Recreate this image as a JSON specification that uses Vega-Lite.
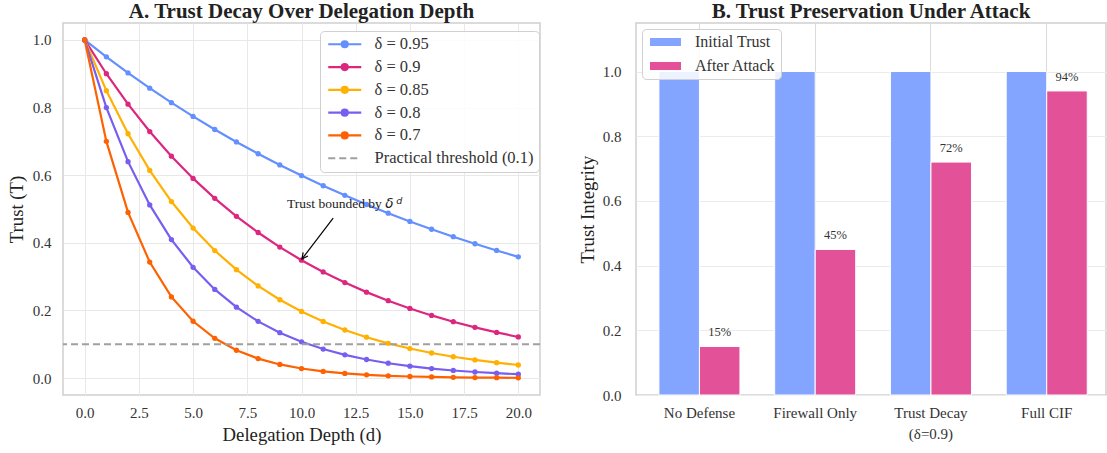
{
  "$schema": "https://vega.github.io/schema/vega-lite/v6.json",
  "padding": {"left": 6, "top": 0, "right": 0, "bottom": 0},
  "background": "white",
  "config": {
    "font": "Liberation Serif",
    "view": {"stroke": "#cfcfcf", "strokeWidth": 1.5},
    "style": {"guide-label": {"font": "Liberation Serif"}, "guide-title": {"font": "Liberation Serif"}, "group-title": {"font": "Liberation Serif"}},
    "axis": {"labelFont": "Liberation Serif", "titleFont": "Liberation Serif", "labelFontSize": 15, "titleFontSize": 18.7, "labelColor": "#333333", "titleColor": "#222222", "titleFontWeight": "normal", "ticks": false, "domain": false, "gridColor": "#e8e8e8", "gridWidth": 1},
    "legend": {"labelFont": "Liberation Serif", "labelFontSize": 16, "labelColor": "#333333"},
    "title": {"font": "Liberation Serif", "fontSize": 21, "fontWeight": "bold", "color": "#222222", "offset": 1},
    "concat": {"spacing": 35}
  },
  "resolve": {"scale": {"color": "independent"}, "legend": {"color": "independent"}},
  "hconcat": [
    {
      "width": 477, "height": 372,
      "title": "A. Trust Decay Over Delegation Depth",
      "data": {"values": [
        {"d":0,"s":"δ = 0.95","t":1},{"d":1,"s":"δ = 0.95","t":0.95},{"d":2,"s":"δ = 0.95","t":0.9025},{"d":3,"s":"δ = 0.95","t":0.857375},{"d":4,"s":"δ = 0.95","t":0.814506},{"d":5,"s":"δ = 0.95","t":0.773781},{"d":6,"s":"δ = 0.95","t":0.735092},{"d":7,"s":"δ = 0.95","t":0.698337},{"d":8,"s":"δ = 0.95","t":0.66342},{"d":9,"s":"δ = 0.95","t":0.630249},{"d":10,"s":"δ = 0.95","t":0.598737},{"d":11,"s":"δ = 0.95","t":0.5688},{"d":12,"s":"δ = 0.95","t":0.54036},{"d":13,"s":"δ = 0.95","t":0.513342},{"d":14,"s":"δ = 0.95","t":0.487675},{"d":15,"s":"δ = 0.95","t":0.463291},{"d":16,"s":"δ = 0.95","t":0.440127},{"d":17,"s":"δ = 0.95","t":0.41812},{"d":18,"s":"δ = 0.95","t":0.397214},{"d":19,"s":"δ = 0.95","t":0.377354},{"d":20,"s":"δ = 0.95","t":0.358486},
        {"d":0,"s":"δ = 0.9","t":1},{"d":1,"s":"δ = 0.9","t":0.9},{"d":2,"s":"δ = 0.9","t":0.81},{"d":3,"s":"δ = 0.9","t":0.729},{"d":4,"s":"δ = 0.9","t":0.6561},{"d":5,"s":"δ = 0.9","t":0.59049},{"d":6,"s":"δ = 0.9","t":0.531441},{"d":7,"s":"δ = 0.9","t":0.478297},{"d":8,"s":"δ = 0.9","t":0.430467},{"d":9,"s":"δ = 0.9","t":0.38742},{"d":10,"s":"δ = 0.9","t":0.348678},{"d":11,"s":"δ = 0.9","t":0.313811},{"d":12,"s":"δ = 0.9","t":0.28243},{"d":13,"s":"δ = 0.9","t":0.254187},{"d":14,"s":"δ = 0.9","t":0.228768},{"d":15,"s":"δ = 0.9","t":0.205891},{"d":16,"s":"δ = 0.9","t":0.185302},{"d":17,"s":"δ = 0.9","t":0.166772},{"d":18,"s":"δ = 0.9","t":0.150095},{"d":19,"s":"δ = 0.9","t":0.135085},{"d":20,"s":"δ = 0.9","t":0.121577},
        {"d":0,"s":"δ = 0.85","t":1},{"d":1,"s":"δ = 0.85","t":0.85},{"d":2,"s":"δ = 0.85","t":0.7225},{"d":3,"s":"δ = 0.85","t":0.614125},{"d":4,"s":"δ = 0.85","t":0.522006},{"d":5,"s":"δ = 0.85","t":0.443705},{"d":6,"s":"δ = 0.85","t":0.37715},{"d":7,"s":"δ = 0.85","t":0.320577},{"d":8,"s":"δ = 0.85","t":0.272491},{"d":9,"s":"δ = 0.85","t":0.231617},{"d":10,"s":"δ = 0.85","t":0.196874},{"d":11,"s":"δ = 0.85","t":0.167343},{"d":12,"s":"δ = 0.85","t":0.142242},{"d":13,"s":"δ = 0.85","t":0.120905},{"d":14,"s":"δ = 0.85","t":0.10277},{"d":15,"s":"δ = 0.85","t":0.087354},{"d":16,"s":"δ = 0.85","t":0.074251},{"d":17,"s":"δ = 0.85","t":0.063113},{"d":18,"s":"δ = 0.85","t":0.053646},{"d":19,"s":"δ = 0.85","t":0.045599},{"d":20,"s":"δ = 0.85","t":0.03876},
        {"d":0,"s":"δ = 0.8","t":1},{"d":1,"s":"δ = 0.8","t":0.8},{"d":2,"s":"δ = 0.8","t":0.64},{"d":3,"s":"δ = 0.8","t":0.512},{"d":4,"s":"δ = 0.8","t":0.4096},{"d":5,"s":"δ = 0.8","t":0.32768},{"d":6,"s":"δ = 0.8","t":0.262144},{"d":7,"s":"δ = 0.8","t":0.209715},{"d":8,"s":"δ = 0.8","t":0.167772},{"d":9,"s":"δ = 0.8","t":0.134218},{"d":10,"s":"δ = 0.8","t":0.107374},{"d":11,"s":"δ = 0.8","t":0.085899},{"d":12,"s":"δ = 0.8","t":0.068719},{"d":13,"s":"δ = 0.8","t":0.054976},{"d":14,"s":"δ = 0.8","t":0.04398},{"d":15,"s":"δ = 0.8","t":0.035184},{"d":16,"s":"δ = 0.8","t":0.028147},{"d":17,"s":"δ = 0.8","t":0.022518},{"d":18,"s":"δ = 0.8","t":0.018014},{"d":19,"s":"δ = 0.8","t":0.014412},{"d":20,"s":"δ = 0.8","t":0.011529},
        {"d":0,"s":"δ = 0.7","t":1},{"d":1,"s":"δ = 0.7","t":0.7},{"d":2,"s":"δ = 0.7","t":0.49},{"d":3,"s":"δ = 0.7","t":0.343},{"d":4,"s":"δ = 0.7","t":0.2401},{"d":5,"s":"δ = 0.7","t":0.16807},{"d":6,"s":"δ = 0.7","t":0.117649},{"d":7,"s":"δ = 0.7","t":0.082354},{"d":8,"s":"δ = 0.7","t":0.057648},{"d":9,"s":"δ = 0.7","t":0.040354},{"d":10,"s":"δ = 0.7","t":0.028248},{"d":11,"s":"δ = 0.7","t":0.019773},{"d":12,"s":"δ = 0.7","t":0.013841},{"d":13,"s":"δ = 0.7","t":0.009689},{"d":14,"s":"δ = 0.7","t":0.006782},{"d":15,"s":"δ = 0.7","t":0.004748},{"d":16,"s":"δ = 0.7","t":0.003323},{"d":17,"s":"δ = 0.7","t":0.002326},{"d":18,"s":"δ = 0.7","t":0.001628},{"d":19,"s":"δ = 0.7","t":0.00114},{"d":20,"s":"δ = 0.7","t":0.000798}
      ]},
      "layer": [
        {
          "mark": {"type": "line", "strokeWidth": 2.2},
          "encoding": {
            "x": {"field": "d", "type": "quantitative", "scale": {"domain": [-1, 21], "nice": false, "zero": false},
                  "axis": {"title": "Delegation Depth (d)", "values": [0, 2.5, 5, 7.5, 10, 12.5, 15, 17.5, 20], "format": ".1f", "labelPadding": 10, "titlePadding": 5, "grid": true, "labelFont": "Liberation Serif", "titleFont": "Liberation Serif"}},
            "y": {"field": "t", "type": "quantitative", "scale": {"domain": [-0.05, 1.05], "nice": false, "zero": false},
                  "axis": {"title": "Trust (T)", "values": [0, 0.2, 0.4, 0.6, 0.8, 1], "format": ".1f", "labelPadding": 12, "titlePadding": 6, "grid": true, "labelFont": "Liberation Serif", "titleFont": "Liberation Serif"}},
            "color": {"field": "s", "type": "nominal",
              "scale": {"domain": ["δ = 0.95", "δ = 0.9", "δ = 0.85", "δ = 0.8", "δ = 0.7", "Practical threshold (0.1)"],
                        "range": ["#648FFF", "#DC267F", "#FFB000", "#785EF0", "#FE6100", "#a0a0a0"]},
              "legend": {
                "title": null, "orient": "none", "legendX": 257, "legendY": 8,
                "labelFont": "Liberation Serif", "labelFontSize": 16.5,
                "symbolSize": 100, "symbolStrokeWidth": 2.2, "labelOffset": 33, "rowPadding": 5.8,
                "padding": 5, "fillColor": "rgba(255,255,255,0.85)", "strokeColor": "#d0d0d0", "cornerRadius": 4,
                "encode": {
                  "labels": {"update": {"font": {"value": "Liberation Serif"}}},
                  "symbols": {"update": {
                  "shape": {"signal": "datum.value === 'Practical threshold (0.1)' ? 'M-1,0H5.6' : 'M-1,0H5.6M1.7,0A0.6,0.6,0,1,1,2.9,0A0.6,0.6,0,1,1,1.7,0Z'"},
                  "fill": {"signal": "datum.value === 'δ = 0.95' ? '#648FFF' : datum.value === 'δ = 0.9' ? '#DC267F' : datum.value === 'δ = 0.85' ? '#FFB000' : datum.value === 'δ = 0.8' ? '#785EF0' : datum.value === 'δ = 0.7' ? '#FE6100' : 'transparent'"},
                  "stroke": {"signal": "datum.value === 'δ = 0.95' ? '#648FFF' : datum.value === 'δ = 0.9' ? '#DC267F' : datum.value === 'δ = 0.85' ? '#FFB000' : datum.value === 'δ = 0.8' ? '#785EF0' : datum.value === 'δ = 0.7' ? '#FE6100' : '#a0a0a0'"},
                  "strokeDash": {"signal": "datum.value === 'Practical threshold (0.1)' ? [7, 4] : null"},
                  "opacity": {"value": 1}
                }}}
              }
            }
          }
        },
        {
          "mark": {"type": "point", "filled": true, "size": 28, "opacity": 1},
          "encoding": {
            "x": {"field": "d", "type": "quantitative"},
            "y": {"field": "t", "type": "quantitative"},
            "color": {"field": "s", "type": "nominal"}
          }
        },
        {
          "data": {"values": [{"s": "Practical threshold (0.1)", "t": 0.1}]},
          "mark": {"type": "rule", "strokeDash": [7, 4], "strokeWidth": 2},
          "encoding": {
            "y": {"field": "t", "type": "quantitative"},
            "color": {"field": "s", "type": "nominal"}
          }
        },
        {
          "data": {"values": [{}]},
          "mark": {"type": "text", "text": "Trust bounded by", "align": "left", "baseline": "alphabetic", "fontSize": 13.5, "font": "Liberation Serif", "color": "#222222"},
          "encoding": {"x": {"datum": 9.335, "type": "quantitative"}, "y": {"datum": 0.502, "type": "quantitative"}}
        },
        {
          "data": {"values": [{}]},
          "mark": {"type": "text", "text": "δ", "align": "left", "baseline": "alphabetic", "fontSize": 13.5, "font": "DejaVu Sans", "fontStyle": "italic", "color": "#222222"},
          "encoding": {"x": {"datum": 13.86, "type": "quantitative"}, "y": {"datum": 0.502, "type": "quantitative"}}
        },
        {
          "data": {"values": [{}]},
          "mark": {"type": "text", "text": "d", "align": "left", "baseline": "alphabetic", "fontSize": 9.5, "font": "DejaVu Sans", "fontStyle": "italic", "color": "#222222"},
          "encoding": {"x": {"datum": 14.37, "type": "quantitative"}, "y": {"datum": 0.515, "type": "quantitative"}}
        },
        {
          "data": {"values": [{}]},
          "mark": {"type": "rule", "color": "black", "strokeWidth": 1.2},
          "encoding": {"x": {"datum": 11.46, "type": "quantitative"}, "y": {"datum": 0.473, "type": "quantitative"}, "x2": {"datum": 10.02}, "y2": {"datum": 0.352}}
        },
        {
          "data": {"values": [{}]},
          "mark": {"type": "point", "shape": "M-0.5,1L0,0L0.5,1", "size": 144, "angle": 217, "filled": false, "stroke": "black", "strokeWidth": 1.2, "opacity": 1},
          "encoding": {"x": {"datum": 10.02, "type": "quantitative"}, "y": {"datum": 0.352, "type": "quantitative"}}
        }
      ]
    },
    {
      "width": 470, "height": 372,
      "title": "B. Trust Preservation Under Attack",
      "data": {"values": [
        {"c": "No Defense", "g": "Initial Trust", "v": 1.0},
        {"c": "No Defense", "g": "After Attack", "v": 0.15},
        {"c": "Firewall Only", "g": "Initial Trust", "v": 1.0},
        {"c": "Firewall Only", "g": "After Attack", "v": 0.45},
        {"c": "Trust Decay", "g": "Initial Trust", "v": 1.0},
        {"c": "Trust Decay", "g": "After Attack", "v": 0.72},
        {"c": "Full CIF", "g": "Initial Trust", "v": 1.0},
        {"c": "Full CIF", "g": "After Attack", "v": 0.94}
      ]},
      "layer": [
        {
          "mark": {"type": "bar", "stroke": "white", "strokeWidth": 1},
          "encoding": {
            "x": {"field": "c", "type": "nominal", "sort": ["No Defense", "Firewall Only", "Trust Decay", "Full CIF"],
                  "scale": {"paddingInner": 0.3, "paddingOuter": 0.18, "align": 0.55},
                  "axis": {"title": null, "labelAngle": 0, "grid": true, "bandPosition": 0.5, "gridColor": "#dadada", "labelPadding": 10, "labelLineHeight": 21, "labelFont": "Liberation Serif",
                           "labelExpr": "datum.value == 'Trust Decay' ? ['Trust Decay', '(δ=0.9)'] : datum.label"}},
            "xOffset": {"field": "g", "type": "nominal", "sort": ["Initial Trust", "After Attack"], "scale": {"paddingInner": 0, "paddingOuter": 0}},
            "y": {"field": "v", "type": "quantitative", "scale": {"domain": [0, 1.15], "nice": false},
                  "axis": {"title": "Trust Integrity", "values": [0, 0.2, 0.4, 0.6, 0.8, 1.0], "format": ".1f", "labelPadding": 15, "titlePadding": 5, "grid": true, "gridColor": "#ebebeb", "labelFont": "Liberation Serif", "titleFont": "Liberation Serif"}},
            "color": {"field": "g", "type": "nominal", "sort": ["Initial Trust", "After Attack"],
              "scale": {"domain": ["Initial Trust", "After Attack"], "range": ["#83A5FF", "#E35199"]},
              "legend": {"title": null, "orient": "top-left", "offset": 6, "symbolSize": 100, "labelOffset": 32, "rowPadding": 8, "padding": 5,
                         "labelFont": "Liberation Serif", "labelFontSize": 16,
                         "fillColor": "rgba(255,255,255,0.85)", "strokeColor": "#d0d0d0", "cornerRadius": 4,
                         "symbolType": "M-1,-0.8H5.2V0.8H-1Z", "symbolStrokeWidth": 0}
            }
          }
        },
        {
          "transform": [{"filter": "datum.g == 'After Attack'"}],
          "mark": {"type": "text", "dy": -10, "baseline": "alphabetic", "fontSize": 12.5, "font": "Liberation Serif", "color": "#333333"},
          "encoding": {
            "x": {"field": "c", "type": "nominal", "sort": ["No Defense", "Firewall Only", "Trust Decay", "Full CIF"]},
            "xOffset": {"field": "g", "type": "nominal", "sort": ["Initial Trust", "After Attack"]},
            "y": {"field": "v", "type": "quantitative"},
            "text": {"field": "v", "type": "quantitative", "format": ".0%"}
          }
        }
      ]
    }
  ]
}
